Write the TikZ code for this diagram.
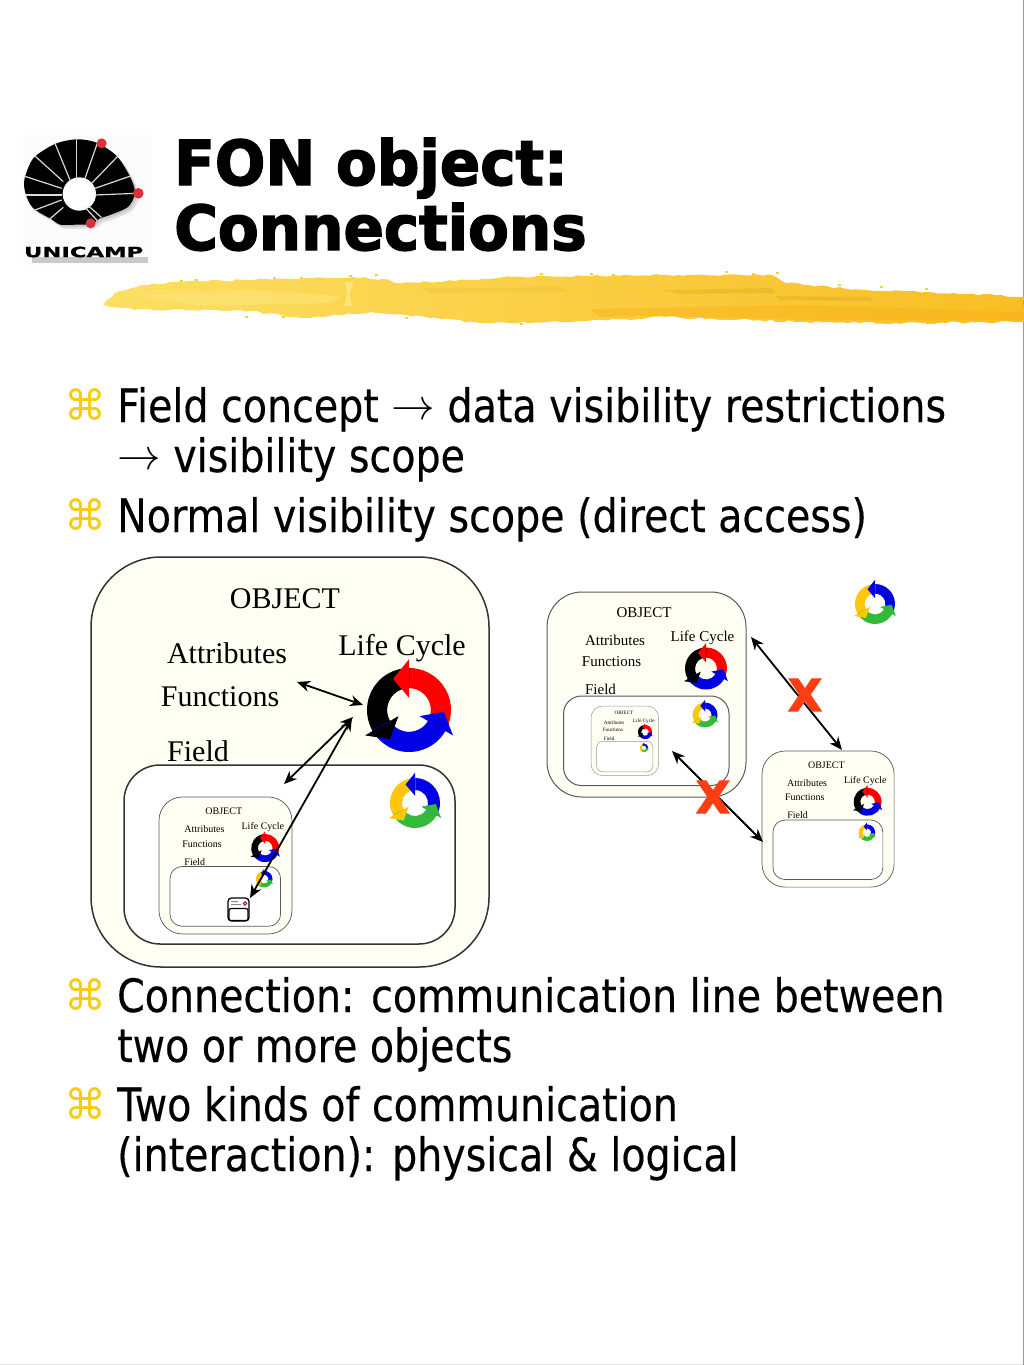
\documentclass[tikz,border=0pt]{standalone}
\usepackage{fontspec}
\usepackage{graphicx}
\usetikzlibrary{arrows.meta,decorations.pathmorphing,shapes.geometric}
\newfontfamily\bodyfont[FakeStretch=0.86,FakeBold=0.3]{DejaVu Sans}
\newfontfamily\titlefont[FakeStretch=0.96,FakeBold=2.4]{DejaVu Sans Bold}
\newfontfamily\markfont{DejaVu Sans}
\newfontfamily\crossfont[FakeBold=3]{DejaVu Sans Bold}
\newfontfamily\logofont[FakeBold=1]{DejaVu Sans Bold}
\setmainfont{Liberation Serif}
\definecolor{ivory}{HTML}{FFFFF3}
\definecolor{bulletyellow}{HTML}{F6CD14}
\definecolor{crossred}{HTML}{FF3D12}
\definecolor{cyblue}{HTML}{0000E4}
\definecolor{cyyellow}{HTML}{FFC60A}
\definecolor{cygreen}{HTML}{35B93A}
\definecolor{dotred}{HTML}{D8303C}
\definecolor{brushleft}{HTML}{FCDF62}
\definecolor{brushmid}{HTML}{FBD038}
\definecolor{brushright}{HTML}{F9BE24}
\definecolor{brushdark}{HTML}{C9A020}
\definecolor{brushdeep}{HTML}{F8AE12}
\definecolor{brushlight}{HTML}{FEE98C}
\newcommand\thinarrow{\raisebox{3pt}{\scalebox{1.75}{$\rightarrow$}}}
\tikzset{
  bodyline/.style={anchor=base west,inner sep=0pt,font=\fontsize{46}{50}\bodyfont,text=black},
  bulletmark/.style={anchor=center,inner sep=0pt,font=\fontsize{42}{44}\markfont,text=bulletyellow},
  titleline/.style={anchor=base west,inner sep=0pt,font=\fontsize{62}{66}\titlefont,text=black},
  serif/.style={inner sep=0pt,font=\fontsize{30}{32}\selectfont,text=black},
  objshape/.style={draw=#1,anchor=north west,inner sep=0pt,outer sep=0pt},
  twohead/.style={{Stealth[length=13pt,width=11pt]}-{Stealth[length=13pt,width=11pt]},line width=1.8pt,black},
  crossmark/.style={inner sep=0pt,font=\fontsize{44}{46}\crossfont,text=crossred},
}
% one of the three arrows of a life-cycle ring
\newcommand\ringbody[2]{\fill[#2,rotate=#1] (90:1) arc[start angle=90,end angle=-31,radius=1] -- (-31:.52) arc[start angle=-31,end angle=90,radius=.52] -- cycle;}
\newcommand\ringhead[2]{\fill[#2,rotate=#1] (90:1.21) -- (117:.83) -- (90:.29) -- cycle;}
% x, y, R, colours
\newcommand\ring[6]{\begin{scope}[shift={(#1,#2)},x=#3pt,y=#3pt]
  \ringbody{0}{#4}\ringbody{120}{#5}\ringbody{240}{#6}
  \ringhead{0}{#4}\ringhead{120}{#5}\ringhead{240}{#6}
\end{scope}}
% name, x, y, scale, line width, colour of line, x-offset of inner ring
\newcommand\objectbox[7]{%
  \begin{scope}[shift={(#2,#3)}]
  \node[objshape=#6,fill=ivory,line width=#5,minimum width=#4*398pt,minimum height=#4*410pt,rounded corners=#4*70pt] (#1) at (0,0) {};
  \node[serif,scale=#4] (#1obj) at (#4*194,#4*42) {OBJECT};
  \node[serif,scale=#4] (#1att) at (#4*136,#4*96) {Attributes};
  \node[serif,scale=#4] (#1fun) at (#4*129,#4*140) {Functions};
  \node[serif,scale=#4] (#1fie) at (#4*107,#4*194) {Field};
  \node[serif,scale=#4] (#1lif) at (#4*311,#4*91) {Life Cycle};
  \pgfmathsetmacro\ra{#4*42}
  \ring{#4*318}{#4*153}{\ra}{red}{black}{cyblue}
  \node[objshape=#6,fill=white,line width=#5,minimum width=#4*331pt,minimum height=#4*179pt,rounded corners=#4*36pt] (#1field) at (#4*33,#4*208) {};
  \pgfmathsetmacro\rb{#4*25}
  \ring{#4*#7}{#4*246}{\rb}{cyblue}{cyyellow}{cygreen}
  \end{scope}}
\begin{document}
\begin{tikzpicture}[x=1pt,y=-1pt]
\useasboundingbox (0,0) rectangle (1024,1365);
\fill[white] (0,0) rectangle (1024,1365);
\draw[black!40,line width=1pt] (1023,0) -- (1023,1365);
\draw[black!10,line width=1pt] (0,1364) -- (1023,1364);

% brush stroke
\begin{scope}
\path[left color=brushleft,middle color=brushmid,right color=brushright,
  decorate,decoration={random steps,segment length=6pt,amplitude=1.1pt}]
 (103,305) -- (115,293) -- (141,285) -- (177,282) -- (241,280) -- (353,277) -- (383,279) -- (395,283) -- (465,280) -- (512,277) -- (660,275) -- (772,275) -- (786,283) -- (866,290) -- (954,293) -- (1024,297) -- (1024,322) -- (925,323) -- (807,322) -- (666,317) -- (571,322) -- (483,323) -- (406,315) -- (371,312) -- (306,318) -- (241,310) -- (135,310) -- cycle;
\fill[brushdeep,opacity=.4] (590,309) -- (800,305) -- (1024,312) -- (1024,320) -- (810,320) -- (666,316) -- (600,317) -- cycle;
\fill[brushdark,opacity=.28] (660,290) -- (772,288) -- (775,293) -- (680,294) -- cycle;
\fill[brushdark,opacity=.3] (775,296) -- (870,297) -- (872,301) -- (780,300) -- cycle;
\fill[brushdark,opacity=.12] (420,288) -- (560,287) -- (570,292) -- (430,293) -- cycle;
\fill[brushlight,opacity=.7] (345,282) -- (354,281) -- (350,294) -- (352,306) -- (344,306) -- (347,294) -- cycle;
\fill[brushlight,opacity=.4] (135,295) -- (250,290) -- (340,296) -- (330,303) -- (200,306) -- cycle;
\foreach \sx/\sy in {180/280,195/279,273/277,300/277,322/278,349/275,375/274,540/273,590/273,612/274,725/271,752/273,776/272,838/284,880/286,925/288,245/316,282/316,405/317,520/323}
  \fill[brushmid] (\sx,\sy) rectangle +(3,2);
\end{scope}

% logo
\begin{scope}[shift={(0,120)},x=.3333pt,y=-.3333pt]
\fill[black!1.5] (68,45) rectangle (452,435);
\fill[black!30,opacity=.35,shift={(12,12)}] plot[smooth cycle] coordinates {(155,298) (100,265) (78,225) (73,180) (100,115) (165,72) (230,58) (290,68) (350,108) (390,170) (405,218) (385,260) (330,285) (300,295) (275,312) (230,314) (180,314)};
\fill[black!30,opacity=.5,shift={(6,6)}] plot[smooth cycle] coordinates {(155,298) (100,265) (78,225) (73,180) (100,115) (165,72) (230,58) (290,68) (350,108) (390,170) (405,218) (385,260) (330,285) (300,295) (275,312) (230,314) (180,314)};
\fill[black] plot[smooth cycle] coordinates {(155,298) (100,265) (78,225) (73,180) (100,115) (165,72) (230,58) (290,68) (350,108) (390,170) (405,218) (385,260) (330,285) (300,295) (275,312) (230,314) (180,314)};
\fill[white] (238,222) circle[radius=50];
\foreach \ax/\ay/\bx/\by in {230/55/230/180,165/70/210/180,105/108/190/185,72/168/185/205,78/225/185/225,100/272/185/240,148/298/190/262,292/70/255/175,356/106/275/190,392/168/285/205,408/220/285/225,255/262/292/302,266/258/304/292}
  \draw[black!15,line width=1.2pt] (\ax,\ay) -- (\bx,\by);
\fill[dotred] (305,70) circle[radius=15];
\fill[dotred] (415,220) circle[radius=16];
\fill[dotred] (272,310) circle[radius=15];
\fill[black!40,opacity=.5] (95,410) rectangle (445,430);
\node[inner sep=0pt,font=\fontsize{14}{14}\logofont,xscale=1.62] (unicamp) at (251,396) {UNICAMP};
\end{scope}

% title
\node[titleline] (t1) at (174,185) {FON object:};
\node[titleline] (t2) at (174,250) {Connections};

% bullets
\node[bulletmark] (b1) at (85,405) {⌘};
\node[bodyline] (l1) at (117,422) {Field concept \thinarrow{} data visibility restrictions};
\node[bodyline] (l2) at (117,472) {\thinarrow{} visibility scope};
\node[bulletmark] (b2) at (85,515) {⌘};
\node[bodyline] (l3) at (117,532) {Normal visibility scope (direct access)};
\node[bulletmark] (b3) at (85,995) {⌘};
\node[bodyline] (l4) at (117,1012) {Connection: communication line between};
\node[bodyline] (l5) at (117,1062) {two or more objects};
\node[bulletmark] (b4) at (85,1104) {⌘};
\node[bodyline] (l6) at (117,1121) {Two kinds of communication};
\node[bodyline] (l7) at (117,1171) {(interaction): physical \& logical};

% large object
\objectbox{big}{91}{557}{1}{1.5pt}{black!80}{324}
\objectbox{inner}{159}{797}{.334}{.7pt}{black!65}{315}
% tiny object icon
\node[draw=black,fill=white,line width=1.3pt,rounded corners=3.5pt,minimum width=21pt,minimum height=23pt,inner sep=0pt] (icon) at (238.5,909.5) {};
\node[draw=black,fill=white,line width=1.2pt,rounded corners=2pt,minimum width=19pt,minimum height=12pt,inner sep=0pt] (iconfield) at (238.5,914.5) {};
\fill[black!45] (231,901) rectangle (238,902) (231,904) rectangle (241,905);
\draw[violet!70!red,line width=1pt] (245,903.5) circle[radius=1.7];

% second object group
\objectbox{left}{547}{592}{.5}{1pt}{black!65}{316}
\objectbox{nest}{591}{706}{.17}{.5pt}{black!40}{312}
\objectbox{right}{762}{751}{.332}{.7pt}{black!65}{316}
\ring{875}{604}{20}{cyblue}{cyyellow}{cygreen}

% connectors
\coordinate (fa) at (297,682);
\coordinate (fb) at (363,705);
\coordinate (ga) at (353,717);
\coordinate (gb) at (284,784);
\coordinate (ha) at (352,718);
\coordinate (hb) at (250,898);
\coordinate (ia) at (751,637);
\coordinate (ib) at (842,750);
\coordinate (ja) at (672,751);
\coordinate (jb) at (763,842);
\draw[twohead] (fa) -- (fb);
\draw[twohead] (ga) -- (gb);
\draw[twohead] (ha) -- (hb);
\draw[twohead] (ia) -- (ib);
\draw[twohead] (ja) -- (jb);
\node[crossmark] (x1) at (805,695) {X};
\node[crossmark] (x2) at (713,797) {X};
\end{tikzpicture}
\end{document}
